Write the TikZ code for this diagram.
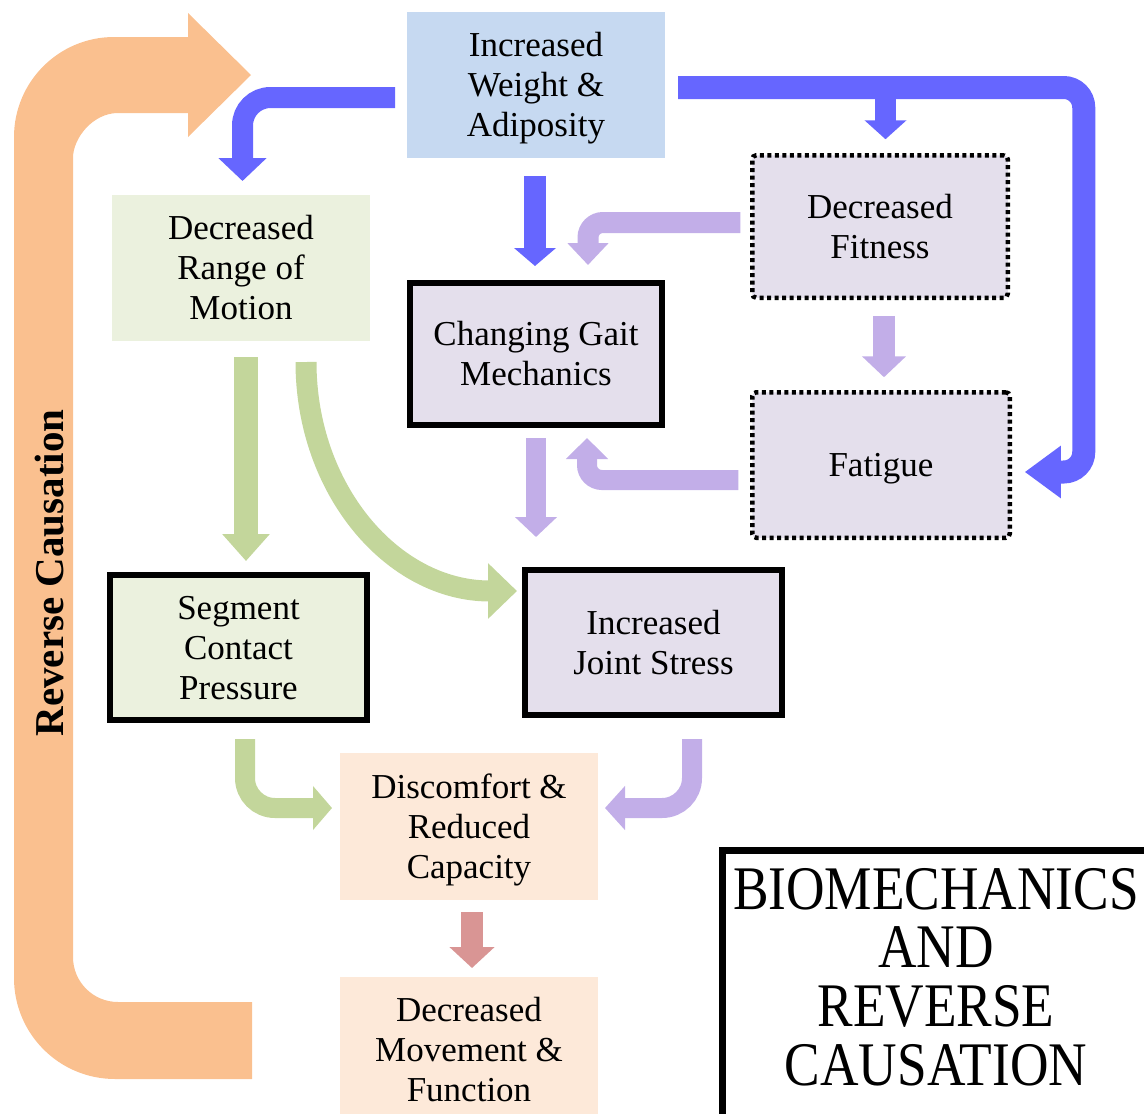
\documentclass[tikz,border=0pt]{standalone}
\usepackage{fontspec}
\setmainfont{Liberation Serif}
\usepackage{graphicx}
\usetikzlibrary{arrows.meta,calc}
\definecolor{cblue}{RGB}{102,102,255}
\definecolor{clav}{RGB}{194,174,232}
\definecolor{cgreen}{RGB}{195,214,155}
\definecolor{corange}{RGB}{250,192,143}
\definecolor{cred}{RGB}{217,149,148}
\definecolor{bxblue}{RGB}{198,217,241}
\definecolor{bxgreen}{RGB}{235,241,222}
\definecolor{bxlav}{RGB}{228,223,236}
\definecolor{bxpeach}{RGB}{253,233,217}
\newcommand{\mytop}{\rule{0pt}{32pt}}
\newcommand{\mybot}{\rule[-9pt]{0pt}{9pt}}
\begin{document}
\begin{tikzpicture}[x=1pt,y=-1pt,
  box/.style={inner sep=0pt, outer sep=0pt, align=center, font=\fontsize{35}{40}\selectfont},
  thickbox/.style={box, draw=black, line width=6pt},
  dotbox/.style={box, draw=black, line width=4.5pt, dash pattern=on 4pt off 3.5pt, rounded corners=4pt},
  barr/.style={draw=cblue, line width=21pt},
  larr/.style={draw=clav, line width=20pt},
  garr/.style={draw=cgreen, line width=22pt},
  rarr/.style={draw=cred, line width=22pt},
  titletext/.style={inner sep=0pt, text height=42pt, text depth=0pt, font=\fontsize{62}{59}\selectfont}
]
\useasboundingbox (0,0) rectangle (1144,1114);
\clip (0,0) rectangle (1144,1114);

% big orange reverse-causation arrow
\fill[corange] (252,1079) -- (115,1079) .. controls (59.2,1079) and (14,1033.8) .. (14,978)
  -- (14,137) .. controls (14,81.8) and (58.8,37) .. (114,37) -- (188,37) -- (188,13)
  -- (251,75) -- (188,137) -- (188,113) -- (118,113) .. controls (93.1,113) and (73,137.9) .. (73,158)
  -- (73,957) .. controls (73,981.9) and (93.1,1002) .. (118,1002) -- (252,1002) -- cycle;
\node[rotate=90, anchor=base, inner sep=0pt, font=\fontsize{41}{45}\selectfont\bfseries] (rc) at (63,573) {Reverse Causation};

% boxes
\node[box, fill=bxblue, minimum width=258pt, minimum height=146pt] (weight) at (536,85) {\mytop Increased\\Weight \&\\Adiposity\mybot};
\node[box, fill=bxgreen, minimum width=258pt, minimum height=146pt] (rom) at (241,268) {\mytop Decreased\\Range of\\Motion\mybot};
\node[dotbox, fill=bxlav, minimum width=255.5pt, minimum height=142.5pt] (fitness) at (880,226.5) {\mytop Decreased\\Fitness\mybot};
\node[thickbox, fill=bxlav, minimum width=252pt, minimum height=142pt] (gait) at (536,354) {\mytop Changing Gait\\Mechanics\mybot};
\node[dotbox, fill=bxlav, minimum width=257.5pt, minimum height=145.5pt] (fatigue) at (881,465) {\mytop Fatigue\mybot};
\node[thickbox, fill=bxgreen, minimum width=257pt, minimum height=145pt] (segment) at (238.5,647.5) {\mytop Segment\\Contact\\Pressure\mybot};
\node[thickbox, fill=bxlav, minimum width=257pt, minimum height=145pt] (joint) at (653.5,642.5) {\mytop Increased\\Joint Stress\mybot};
\node[box, fill=bxpeach, minimum width=258pt, minimum height=147pt] (discomfort) at (469,826.5) {\mytop Discomfort \&\\Reduced\\Capacity\mybot};
\node[box, fill=bxpeach, minimum width=258pt, minimum height=146pt] (movement) at (469,1050) {\mytop Decreased\\Movement \&\\Function\mybot};

% title box
\node[draw=black, line width=7pt, anchor=north west, minimum width=500pt, minimum height=320pt, inner sep=0pt] (title) at (718.5,847) {};
\node[titletext, anchor=base] (t1) at (936,909) {\scalebox{0.86}[1]{BIOMECHANICS}};
\node[titletext, anchor=base] (t2) at (936,967) {\scalebox{0.86}[1]{AND}};
\node[titletext, anchor=base] (t3) at (936,1026) {\scalebox{0.86}[1]{REVERSE}};
\node[titletext, anchor=base] (t4) at (936,1085) {\scalebox{0.86}[1]{CAUSATION}};

% blue arrows
\draw[barr, -{Triangle[length=23pt,width=47pt]}, rounded corners=28pt]
  ($(weight.west)+(-12,12.5)$) -| ($(rom.north)+(1.5,-14)$);
\coordinate (ftip) at ($(fatigue.east)+(15,7)$);
\draw[barr, line width=23pt, -{Triangle[length=36pt,width=50pt]}, rounded corners=20pt]
  ($(weight.east)+(13,2.5)$) -| ($(ftip)+(59,0)$) -- (ftip);
\coordinate (fitop) at ($(fitness.north)+(5.5,-16)$);
\draw[barr, -{Triangle[length=19pt,width=41pt]}] (fitop |- weight.east) -- (fitop);
\draw[barr, line width=22pt, -{Triangle[length=18pt,width=41pt]}]
  ($(weight.south)+(-1,18)$) -- ($(gait.north)+(-1,-17)$);

% lavender arrows
\draw[larr, line width=21pt, -{Triangle[length=22pt,width=40pt]}, rounded corners=15pt]
  ($(fitness.west)+(-12,-4)$) -| ($(gait.north)+(52,-18)$);
\draw[larr, line width=22pt, -{Triangle[length=21pt,width=43pt]}]
  ($(fitness.south)+(4,18)$) -- ($(fatigue.north)+(3,-15)$);
\draw[larr, -{Triangle[length=21pt,width=41pt]}, rounded corners=15pt]
  ($(fatigue.west)+(-14,15)$) -| ($(gait.south)+(51,13)$);
\draw[larr, -{Triangle[length=20pt,width=41pt]}]
  ($(gait.south)+(0,13)$) -- ($(gait.south)+(0,112)$);
\draw[larr, -{Triangle[length=20pt,width=43pt]}, rounded corners=30pt]
  ($(joint.south)+(38.5,24)$) |- ($(discomfort.east)+(7,-18.5)$);

% green arrows
\draw[garr, line width=24pt, -{Triangle[length=27pt,width=46pt]}]
  ($(rom.south)+(5,16)$) -- ($(segment.north)+(7.5,-14)$);
\coordinate (cs) at ($(rom.south)+(65,21)$);
\coordinate (ct) at ($(joint.west)+(-8,-51.5)$);
\draw[garr, line width=21pt, -{Triangle[length=29pt,width=54pt]}]
  (cs) .. controls ($(cs)+(0,128)$) and ($(ct)+(-124,0)$) .. (ct);
\draw[garr, line width=20pt, -{Triangle[length=19pt,width=43pt]}, rounded corners=30pt]
  ($(segment.south)+(6.5,19)$) |- ($(discomfort.west)+(-8,-18.5)$);

% red arrow
\draw[rarr, -{Triangle[length=21pt,width=44pt]}]
  ($(discomfort.south)+(3,12)$) -- ($(movement.north)+(3,-9)$);
\end{tikzpicture}
\end{document}
